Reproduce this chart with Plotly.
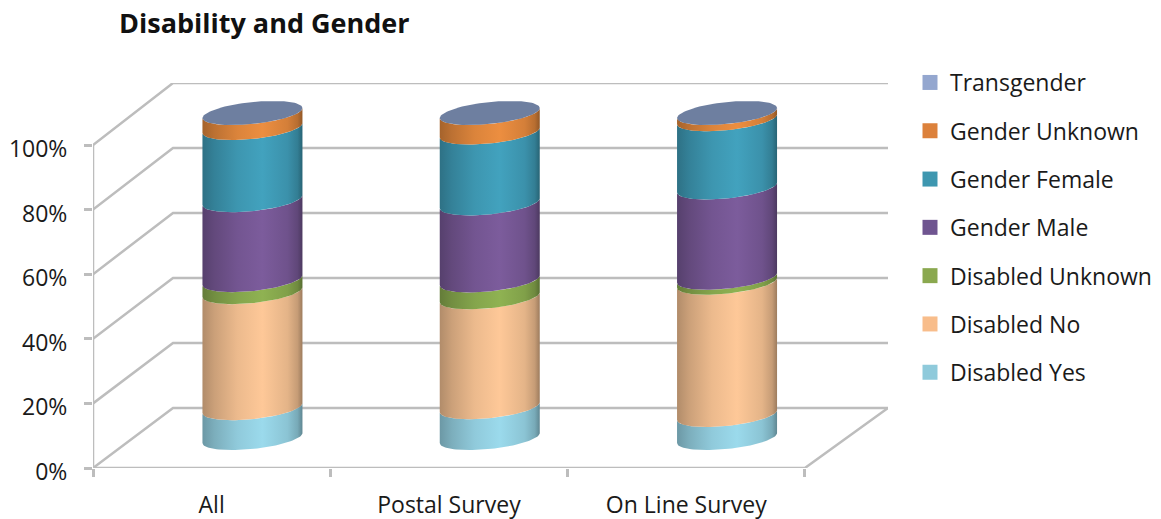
import numpy as np
import plotly.graph_objects as go

categories = ["All", "Postal Survey", "On Line Survey"]
series_names = ["Disabled Yes", "Disabled No", "Disabled Unknown", "Gender Male",
                "Gender Female", "Gender Unknown", "Transgender"]
disabled_yes = [9.2, 9.5, 7.1]
disabled_no = [35.7, 33.8, 40.7]
disabled_unknown = [3.7, 5.2, 1.5]
gender_male = [24.6, 23.7, 27.8]
gender_female = [22.2, 21.8, 21.0]
gender_unknown = [4.6, 6.0, 1.9]
transgender = [0.0, 0.0, 0.0]
all_series = [disabled_yes, disabled_no, disabled_unknown, gender_male,
              gender_female, gender_unknown, transgender]
y_ticks = [0, 20, 40, 60, 80, 100]
y_tick_labels = ["0%", "20%", "40%", "60%", "80%", "100%"]

legend_colors = ["#8fcadb", "#f8bd8b", "#8aa84f", "#6f5590", "#3e97b0", "#dc813b", "#94a7cf"]
peak_colors = [(155, 218, 236), (254, 200, 152), (143, 178, 82), (124, 92, 156),
               (66, 162, 190), (236, 142, 64), (110, 127, 160)]
GRID = "#bdbdbd"
FONT = "Open Sans"

# plot geometry, pixels
L, R, T, B = 93, 888, 83, 468
PX_X = 237.3
PX_Y = 3.23
x_max = (R - L) / PX_X
y_max = (B - T) / PX_Y
depth_x = 80 / PX_X
depth_y = 60 / PX_Y
back_scale = 3.25 / PX_Y
cyl_off = (40.8) / PX_X
cyl_rx = 50 / PX_X
cyl_base = 30 / PX_Y
cyl_scale = 3.25 / PX_Y
skew = 5 / PX_Y
ry = 11 / PX_Y

fig = go.Figure()

# walls
for v in y_ticks:
    by = depth_y + v * back_scale
    fig.add_trace(go.Scatter(x=[0, depth_x, x_max], y=[v, by, by], mode="lines",
                             line=dict(color=GRID, width=2.5), showlegend=False, hoverinfo="skip"))
fig.add_trace(go.Scatter(x=[0, len(categories), x_max], y=[0, 0, depth_y], mode="lines",
                         line=dict(color=GRID, width=2.5), showlegend=False, hoverinfo="skip"))
fig.add_trace(go.Scatter(x=[0, 0], y=[-5 / PX_Y, 100], mode="lines", cliponaxis=False,
                         line=dict(color=GRID, width=2.5), showlegend=False, hoverinfo="skip"))


def scale_stops(rgb):
    stops = [(0, .70), (.12, .80), (.35, .93), (.6, 1.0), (.85, .90), (.95, .78), (1, .62)]
    return [[p, "rgb(%d,%d,%d)" % tuple(int(c * f) for c in rgb)] for p, f in stops]


t_front = np.linspace(np.pi, 0, 50)
t_back = np.linspace(0, np.pi, 50)

# cylinders
for i in range(len(categories)):
    cx = i + 0.5 + cyl_off
    cum = 0.0
    levels = [0.0]
    for s in all_series[:-1]:
        cum += s[i]
        levels.append(cum)
    for k in range(len(levels) - 1):
        y0 = cyl_base + levels[k] * cyl_scale
        y1 = cyl_base + levels[k + 1] * cyl_scale
        xs = np.r_[cx + cyl_rx * np.cos(t_front), cx + cyl_rx * np.cos(t_back)]
        ys = np.r_[y0 + skew * np.cos(t_front) - ry * np.sin(t_front),
                   y1 + skew * np.cos(t_back) - ry * np.sin(t_back)]
        fig.add_trace(go.Scatter(
            x=xs, y=ys, mode="lines", line=dict(width=0), fill="toself",
            fillgradient=dict(type="horizontal", colorscale=scale_stops(peak_colors[k]),
                              start=cx - cyl_rx, stop=cx + cyl_rx),
            showlegend=False, hoverinfo="skip"))
    # top cap (zero-height Transgender segment)
    yt = cyl_base + levels[-1] * cyl_scale + transgender[i] * cyl_scale
    tt = np.linspace(0, 2 * np.pi, 100)
    fig.add_trace(go.Scatter(
        x=cx + cyl_rx * np.cos(tt), y=yt + skew * np.cos(tt) - ry * np.sin(tt),
        mode="lines", line=dict(width=0), fill="toself",
        fillcolor="rgb(%d,%d,%d)" % peak_colors[6], showlegend=False, hoverinfo="skip"))

# legend
for name, col in reversed(list(zip(series_names, legend_colors))):
    fig.add_trace(go.Scatter(x=[None], y=[None], mode="markers", name=name, legendgroup=name,
                             marker=dict(symbol="square", size=15, color=col, line=dict(width=0))))

fig.update_layout(
    width=1161, height=519, autosize=False,
    margin=dict(l=L, r=1161 - R, t=T, b=519 - B, pad=0, autoexpand=False),
    paper_bgcolor="white", plot_bgcolor="white",
    font=dict(family=FONT, size=23, color="#1a1a1a"),
    title=dict(text="<b>Disability and Gender</b>", x=119 / 1161, xanchor="left", xref="container",
               y=1 - 24 / 519, yanchor="middle", yref="container",
               font=dict(family=FONT, size=27, color="#111111")),
    xaxis=dict(range=[0, x_max], showgrid=False, zeroline=False, showline=False, automargin=False,
               tickmode="array", tickvals=[i + 0.5 for i in range(len(categories))],
               ticktext=categories, ticks="", tickfont=dict(size=23),
               ticklabelstandoff=21, fixedrange=True,
               minor=dict(tickmode="array", tickvals=list(range(len(categories) + 1)),
                          ticks="outside", ticklen=8, tickwidth=2.5, tickcolor=GRID, showgrid=False)),
    yaxis=dict(range=[0, y_max], showgrid=False, zeroline=False, showline=False, automargin=False,
               tickmode="array", tickvals=y_ticks, ticktext=y_tick_labels,
               ticks="outside", ticklen=8, tickwidth=2.5, tickcolor=GRID,
               tickfont=dict(size=23), ticklabelstandoff=12, ticklabelshift=4, fixedrange=True),
    legend=dict(x=(910 - L) / (R - L), xanchor="left",
                y=(B - 61) / (B - T), yanchor="top", maxheight=440,
                traceorder="grouped", tracegroupgap=15.4, itemwidth=30,
                font=dict(family=FONT, size=23), bgcolor="rgba(0,0,0,0)"),
    showlegend=True,
)
fig.write_html("out.html", post_script="document.body.style.margin='0';",
               config={"displayModeBar": False})
